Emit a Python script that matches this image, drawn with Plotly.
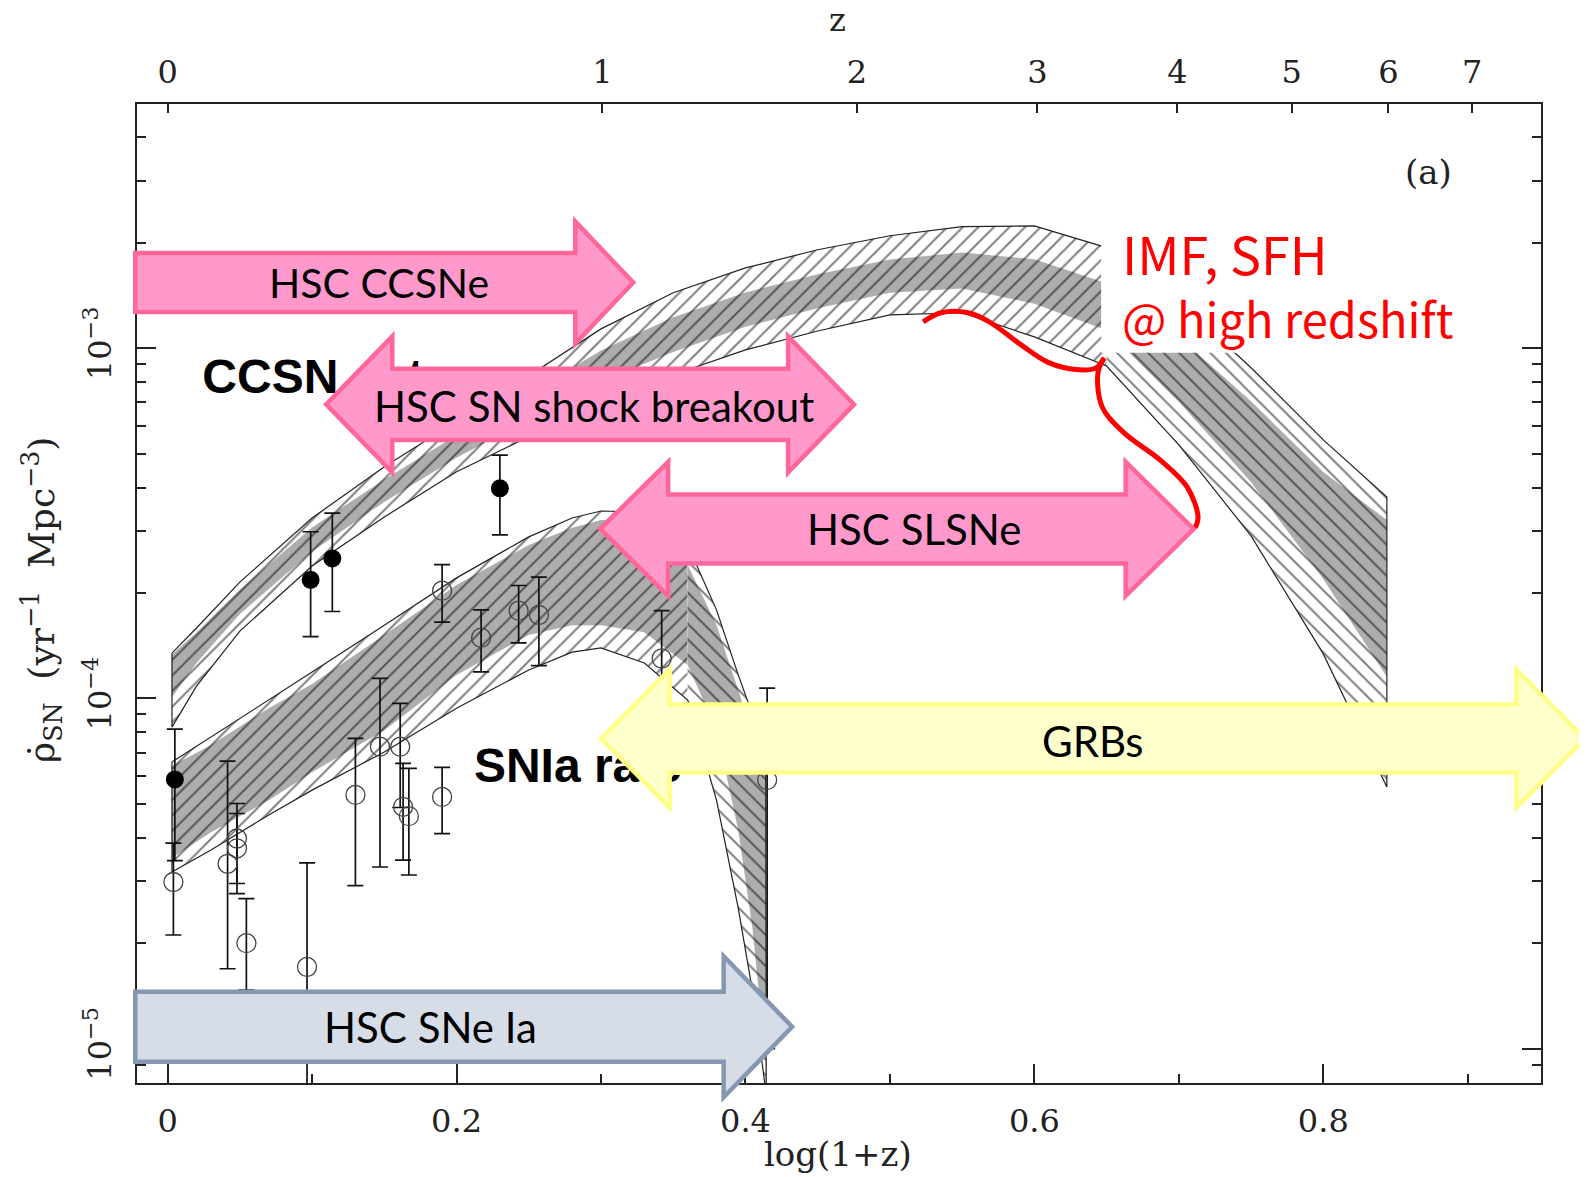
import numpy as np
import plotly.graph_objects as go

# ---------------- data (x = log10(1+z), y = SN rate [yr^-1 Mpc^-3]) ----------------
# core-collapse SN rate measurements (filled circles)
ccsn_logz1 = [0.005, 0.099, 0.114, 0.230]
ccsn_rate = [5.87e-5, 2.18e-4, 2.51e-4, 3.98e-4]
ccsn_err_hi = [2.30e-5, 0.81e-4, 0.87e-4, 0.97e-4]
ccsn_err_lo = [2.43e-5, 0.68e-4, 0.74e-4, 1.05e-4]

# SN Ia rate measurements (open circles)
snia_logz1 = [0.004, 0.0415, 0.048, 0.048, 0.0545, 0.0965, 0.130, 0.147, 0.161,
              0.163, 0.167, 0.190, 0.190, 0.217, 0.243, 0.257, 0.342, 0.415]
snia_rate = [2.99e-5, 3.37e-5, 3.98e-5, 3.73e-5, 2.00e-5, 1.71e-5, 5.30e-5, 7.28e-5, 7.28e-5,
             4.90e-5, 4.61e-5, 5.23e-5, 2.03e-4, 1.49e-4, 1.78e-4, 1.73e-4, 1.30e-4, 5.85e-5]
snia_err_hi = [0.87e-5, 3.25e-5, 1.03e-5, 0.96e-5, 0.68e-5, 1.68e-5, 2.39e-5, 4.12e-5, 2.40e-5,
               1.62e-5, 1.70e-5, 1.12e-5, 0.38e-4, 0.30e-4, 0.32e-4, 0.49e-4, 0.48e-4, 4.85e-5]
snia_err_lo = [0.88e-5, 1.68e-5, 1.02e-5, 0.96e-5, 0.53e-5, 1.68e-5, 2.38e-5, 3.98e-5, 2.40e-5,
               1.45e-5, 1.48e-5, 1.12e-5, 0.38e-4, 0.30e-4, 0.34e-4, 0.49e-4, 0.48e-4, 4.85e-5]

# model bands, log10(rate)
ccsn_band_x = [0.003, 0.02, 0.05, 0.10, 0.15, 0.20, 0.25, 0.30, 0.35, 0.40,
               0.45, 0.50, 0.55, 0.60, 0.65, 0.70, 0.75, 0.80, 0.844]
ccsn_outer_hi = [-3.871, -3.799, -3.668, -3.485, -3.339, -3.208, -3.079, -2.945, -2.842, -2.771,
                 -2.719, -2.679, -2.653, -2.651, -2.713, -2.865, -3.056, -3.262, -3.425]
ccsn_outer_lo = [-4.082, -3.965, -3.808, -3.622, -3.482, -3.353, -3.253, -3.153, -3.076, -3.005,
                 -2.951, -2.905, -2.899, -2.968, -3.051, -3.276, -3.536, -3.873, -4.253]
ccsn_inner_hi = [-3.875, -3.812, -3.689, -3.512, -3.375, -3.249, -3.131, -3.007, -2.912, -2.841,
                 -2.789, -2.747, -2.727, -2.746, -2.815, -2.968, -3.152, -3.354, -3.491]
ccsn_inner_lo = [-3.997, -3.899, -3.759, -3.581, -3.439, -3.313, -3.205, -3.095, -3.011, -2.939,
                 -2.886, -2.842, -2.830, -2.873, -2.949, -3.153, -3.383, -3.659, -3.939]

snia_band_x = [0.003, 0.03, 0.07, 0.10, 0.15, 0.20, 0.25, 0.28, 0.30, 0.33,
               0.36, 0.38, 0.395, 0.405, 0.414, 0.4145]
snia_outer_hi = [-4.182, -4.111, -4.005, -3.925, -3.791, -3.656, -3.539, -3.485, -3.465, -3.468,
                 -3.562, -3.748, -3.933, -4.048, -4.219, -5.4]
snia_outer_lo = [-4.496, -4.433, -4.333, -4.262, -4.153, -4.028, -3.919, -3.868, -3.856, -3.899,
                 -4.005, -4.291, -4.599, -4.839, -5.119, -5.4]
snia_inner_hi = [-4.193, -4.133, -4.028, -3.959, -3.819, -3.676, -3.562, -3.513, -3.491, -3.496,
                 -3.619, -3.791, -3.976, -4.105, -4.228, -5.4]
snia_inner_lo = [-4.456, -4.382, -4.291, -4.211, -4.091, -3.933, -3.819, -3.791, -3.791, -3.811,
                 -3.905, -4.091, -4.376, -4.662, -5.033, -5.4]

# survey ranges drawn as arrows (x in log10(1+z), level in log10 rate)
arrow_labels = ["HSC CCSNe", "HSC SN shock breakout", "HSC SLSNe", "GRBs", "HSC SNe Ia"]
arrow_x0 = [-0.0224, 0.1098, 0.2995, 0.3001, -0.0224]
arrow_x1 = [0.3223, 0.4752, 0.7102, 0.9811, 0.4323]
arrow_double = [False, True, True, True, False]
arrow_level = [-2.8126, -3.1606, -3.5163, -4.1149, -4.9377]
arrow_text_x = [0.1460, 0.2950, 0.5167, 0.6399, 0.1818]
arrow_text_level = [-2.8134, -3.1643, -3.5163, -4.122, -4.9383]

# red "curly brace" annotation
brace_upper_x = [0.523, 0.5354, 0.5541, 0.5694, 0.5908, 0.6095, 0.631, 0.6427, 0.6483]
brace_upper_lev = [-2.9249, -2.8991, -2.8991, -2.9263, -2.9906, -3.0406, -3.062, -3.0563, -3.0277]
brace_lower_x = [0.6483, 0.6441, 0.6469, 0.6621, 0.687, 0.7057, 0.7133, 0.7112]
brace_lower_lev = [-3.0277, -3.0677, -3.1677, -3.242, -3.3191, -3.3963, -3.482, -3.5134]

z_ticks = [0, 1, 2, 3, 4, 5, 6, 7]
x_ticks = [0, 0.2, 0.4, 0.6, 0.8]
y_ticks = [1e-5, 1e-4, 1e-3]

# ---------------- styles ----------------
XR = [-0.0212, 0.9507]
YR = [-5.0983, -2.3029]
SERIF = "DejaVu Serif"
INK = "#222222"
PINK_FILL, PINK_LINE = "#FF99CC", "#FF6699"
arrow_fill = [PINK_FILL, PINK_FILL, PINK_FILL, "#FFFFCC", "#D7DDE7"]
arrow_line = [PINK_LINE, PINK_LINE, PINK_LINE, "#FFFF88", "#8597B1"]
arrow_head_len = [0.0401, 0.0457, 0.047, 0.0474, 0.0474]
arrow_body_half = [0.0843, 0.1014, 0.0986, 0.0971, 0.100]
arrow_head_half = [0.1743, 0.1943, 0.1914, 0.1971, 0.2014]
arrow_font_size = [41, 42, 42, 42, 42]


def paper_x(v):
    return (v - XR[0]) / (XR[1] - XR[0])


def paper_y(v):
    return (v - YR[0]) / (YR[1] - YR[0])


def arrow_path(x0, x1, yc, body, head, hlen, double):
    if double:
        pts = [(x0, yc), (x0 + hlen, yc + head), (x0 + hlen, yc + body), (x1 - hlen, yc + body),
               (x1 - hlen, yc + head), (x1, yc), (x1 - hlen, yc - head), (x1 - hlen, yc - body),
               (x0 + hlen, yc - body), (x0 + hlen, yc - head)]
    else:
        pts = [(x0, yc + body), (x1 - hlen, yc + body), (x1 - hlen, yc + head), (x1, yc),
               (x1 - hlen, yc - head), (x1 - hlen, yc - body), (x0, yc - body)]
    return "M " + " L ".join(f"{paper_x(a):.5f},{paper_y(b):.5f}" for a, b in pts) + " Z"


def band_polygon(xs, hi, lo, i0, i1):
    xx = list(xs[i0:i1]) + list(xs[i0:i1])[::-1]
    yy = list(hi[i0:i1]) + list(lo[i0:i1])[::-1]
    return xx, [10 ** v for v in yy]


fig = go.Figure()


def add_band(xs, ohi, olo, ihi, ilo, split):
    n = len(xs)
    for (i0, i1, shape) in [(0, split + 1, "/"), (split, n, "\\")]:
        x, y = band_polygon(xs, ohi, olo, i0, i1)
        fig.add_trace(go.Scatter(x=x, y=y, mode="lines", fill="toself", line=dict(width=0),
                                 fillpattern=dict(shape=shape, fgcolor="#000000", bgcolor="white",
                                                  size=11, solidity=0.18),
                                 hoverinfo="skip", showlegend=False))
        x, y = band_polygon(xs, ihi, ilo, i0, i1)
        fig.add_trace(go.Scatter(x=x, y=y, mode="lines", fill="toself", line=dict(width=0),
                                 fillpattern=dict(shape=shape, fgcolor="#000000", bgcolor="#ADADAD",
                                                  size=11, solidity=0.18),
                                 hoverinfo="skip", showlegend=False))
    x, y = band_polygon(xs, ohi, olo, 0, n)
    fig.add_trace(go.Scatter(x=x + [x[0]], y=y + [y[0]], mode="lines",
                             line=dict(color=INK, width=1.2),
                             hoverinfo="skip", showlegend=False))


add_band(ccsn_band_x, ccsn_outer_hi, ccsn_outer_lo, ccsn_inner_hi, ccsn_inner_lo, 14)
add_band(snia_band_x, snia_outer_hi, snia_outer_lo, snia_inner_hi, snia_inner_lo, 10)

# data points
fig.add_trace(go.Scatter(
    x=snia_logz1, y=snia_rate, mode="markers",
    marker=dict(symbol="circle-open", size=19, color="#444444", line=dict(width=1.3)),
    error_y=dict(type="data", symmetric=False, array=snia_err_hi, arrayminus=snia_err_lo,
                 color="#111111", thickness=1.7, width=8),
    hoverinfo="skip", showlegend=False))
fig.add_trace(go.Scatter(
    x=ccsn_logz1, y=ccsn_rate, mode="markers",
    marker=dict(symbol="circle", size=18, color="black"),
    error_y=dict(type="data", symmetric=False, array=ccsn_err_hi, arrayminus=ccsn_err_lo,
                 color="#111111", thickness=1.7, width=8),
    hoverinfo="skip", showlegend=False))

# "CCSN rate" / "SNIa rate" labels (partly hidden behind the arrows)
fig.add_trace(go.Scatter(
    x=[0.024, 0.212], y=[10 ** -3.0934, 10 ** -4.2049], mode="text",
    text=["<b>CCSN\u2002rate</b>", "<b>SNIa rate</b>"], textposition="middle right",
    textfont=dict(family="Liberation Sans", size=48, color="black"),
    hoverinfo="skip", showlegend=False))

# red brace
for bx, bl in [(brace_upper_x, brace_upper_lev), (brace_lower_x, brace_lower_lev)]:
    fig.add_trace(go.Scatter(x=bx, y=[10 ** v for v in bl], mode="lines",
                             line=dict(color="#FF0000", width=5, shape="spline", smoothing=1.0),
                             hoverinfo="skip", showlegend=False))

# dummy trace for the top (redshift) axis
fig.add_trace(go.Scatter(x=[0.5], y=[1e-4], xaxis="x2", yaxis="y", mode="markers",
                         marker=dict(opacity=0), hoverinfo="skip", showlegend=False))

shapes = []
# white box behind the red text
shapes.append(dict(type="rect", xref="paper", yref="paper",
                   x0=paper_x(0.6462), x1=paper_x(0.8911), y0=paper_y(-3.0134), y1=paper_y(-2.5906),
                   fillcolor="white", line=dict(width=0), layer="above"))
for i in range(len(arrow_labels)):
    shapes.append(dict(type="path", xref="paper", yref="paper",
                       path=arrow_path(arrow_x0[i], arrow_x1[i], arrow_level[i], arrow_body_half[i],
                                       arrow_head_half[i], arrow_head_len[i], arrow_double[i]),
                       fillcolor=arrow_fill[i], line=dict(color=arrow_line[i], width=4.5),
                       layer="above"))

annotations = []
for i, lab in enumerate(arrow_labels):
    annotations.append(dict(x=arrow_text_x[i], y=arrow_text_level[i], xref="x", yref="y",
                            text=lab, showarrow=False, xanchor="center", yanchor="middle",
                            font=dict(family="Lato", size=arrow_font_size[i], color="black")))
annotations += [
    dict(x=0.6593, y=-2.7277, xref="x", yref="y", text="IMF, SFH", showarrow=False,
         xanchor="left", yanchor="middle", font=dict(family="Noto Sans CJK JP", size=52, color="#FF0000")),
    dict(x=0.6593, y=-2.9134, xref="x", yref="y", text="@ high redshift", showarrow=False,
         xanchor="left", yanchor="middle", font=dict(family="Noto Sans CJK JP", size=47, color="#FF0000")),
    dict(x=0.873, y=-2.4963, xref="x", yref="y", text="(a)", showarrow=False,
         xanchor="center", yanchor="middle", font=dict(family=SERIF, size=34, color=INK)),
    dict(x=paper_x(0.4638), y=1 + 84 / 979, xref="paper", yref="paper", text="z", showarrow=False,
         xanchor="center", yanchor="middle", font=dict(family=SERIF, size=32, color=INK)),
    dict(x=paper_x(0.4642), y=-71 / 979, xref="paper", yref="paper", text="log(1+z)", showarrow=False,
         xanchor="center", yanchor="middle", font=dict(family=SERIF, size=34, color=INK)),
    dict(x=-95 / 1404, y=(1083 - 600) / 979, xref="paper", yref="paper",
         text="\u03c1\u0307<sub>SN</sub>  (yr<sup>\u22121</sup>  Mpc<sup>\u22123</sup>)",
         showarrow=False, textangle=-90, xanchor="center", yanchor="middle",
         font=dict(family=SERIF, size=36, color=INK)),
]

minor_y = [m * 10.0 ** e for e in (-6, -5, -4, -3) for m in range(2, 10)
           if YR[0] <= np.log10(m * 10.0 ** e) <= YR[1]]

axis_font = dict(family=SERIF, size=32, color=INK)
# the page body has an 8 px default margin: margins are reduced by 8 px on the top/left
fig.update_layout(
    width=1587, height=1177,
    margin=dict(l=129, r=54, t=96, b=102),
    paper_bgcolor="white", plot_bgcolor="white", showlegend=False,
    shapes=shapes, annotations=annotations,
    xaxis=dict(range=XR, showgrid=False, zeroline=False, showline=True, linecolor=INK,
               linewidth=2, mirror=True, ticks="inside", ticklen=19, tickwidth=1.5,
               tickcolor=INK, tickvals=x_ticks, ticktext=[str(v) if v else "0" for v in x_ticks],
               tickfont=axis_font, ticklabelstandoff=9,
               minor=dict(ticks="inside", ticklen=9, tickwidth=1.5, tickcolor=INK,
                          dtick=0.1, tick0=0, showgrid=False)),
    xaxis2=dict(range=XR, overlaying="x", side="top", anchor="y", showgrid=False, zeroline=False,
                showline=False, ticks="inside", ticklen=9, tickwidth=1.5, tickcolor=INK,
                tickvals=[float(np.log10(1 + z)) for z in z_ticks], ticktext=[str(z) for z in z_ticks],
                tickfont=axis_font, ticklabelstandoff=14),
    yaxis=dict(type="log", range=YR, showgrid=False, zeroline=False, showline=True,
               linecolor=INK, linewidth=2, mirror="ticks", ticks="inside", ticklen=19,
               tickwidth=1.5, tickcolor=INK, tickvals=y_ticks,
               ticktext=["10<sup>\u22125</sup>", "10<sup>\u22124</sup>", "10<sup>\u22123</sup>"],
               tickangle=-90, tickfont=axis_font, ticklabelstandoff=11,
               minor=dict(ticks="inside", ticklen=9, tickwidth=1.5, tickcolor=INK,
                          tickvals=minor_y, showgrid=False)),
)

fig.write_html("out.html")
